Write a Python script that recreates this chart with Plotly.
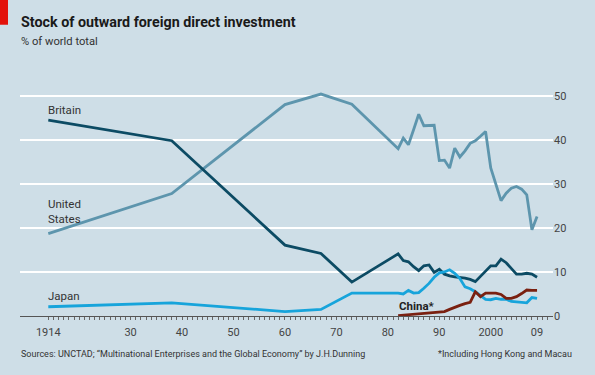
import plotly.graph_objects as go

# ---------------- data ----------------
years_early = [1914, 1938, 1960, 1967, 1973]
years_annual = list(range(1982, 2010))

britain_early = [44.5, 39.8, 16.1, 14.2, 7.7]
britain_annual = [14.1, 12.6, 12.3, 11.2, 10.3, 11.4, 11.6, 9.9, 10.6, 9.5,
                  9.1, 8.9, 8.8, 8.6, 8.3, 7.8, 9.0, 10.3, 11.4, 11.4,
                  12.9, 12.1, 10.8, 9.5, 9.5, 9.7, 9.5, 8.8]

us_early = [18.7, 27.8, 48.0, 50.4, 48.1]
us_annual = [38.0, 40.4, 38.9, 42.3, 45.8, 43.2, 43.3, 43.3, 35.3, 35.4,
             33.6, 38.1, 36.1, 37.5, 39.2, 39.8, 40.8, 41.9, 33.6, 30.0,
             26.2, 27.9, 29.0, 29.4, 28.8, 27.5, 19.6, 22.6]

japan_early = [2.1, 3.0, 1.0, 1.5, 5.2]
japan_annual = [5.2, 5.0, 5.8, 5.2, 5.3, 6.3, 7.4, 8.8, 9.8, 10.0,
                10.5, 9.7, 8.5, 6.6, 6.2, 5.5, 4.6, 3.8, 3.7, 4.0,
                3.8, 3.8, 3.3, 3.2, 3.0, 3.0, 4.2, 4.0]

china_years = years_annual
china = [0.1, 0.2, 0.3, 0.4, 0.5, 0.6, 0.7, 0.8, 0.9, 1.0,
         1.5, 2.0, 2.4, 2.8, 3.1, 5.5, 4.4, 5.2, 5.2, 5.2,
         4.9, 4.0, 4.0, 4.4, 5.1, 5.9, 5.8, 5.8]

x_tickvals = [1914, 1930, 1940, 1950, 1960, 1970, 1980, 1990, 2000, 2009]
x_ticktext = ["1914", "30", "40", "50", "60", "70", "80", "90", "2000", "09"]
y_tickvals = [0, 10, 20, 30, 40, 50]

# ---------------- style ----------------
BG = "#cedee7"
C_BRITAIN = "#0c4b64"
C_US = "#5d95ad"
C_JAPAN = "#17a4db"
C_CHINA = "#7a2010"
FONT = "Roboto, Lato, sans-serif"

W, H = 595, 375
ML, MR, MT, MB = 20, 42, 87.2, 59
PW = W - ML - MR
PH = H - MT - MB


def px(xp):
    return (xp - ML) / PW


def py(yp):
    return (H - MB - yp) / PH


fig = go.Figure()

series = [
    ("United States", years_early + years_annual, us_early + us_annual, C_US),
    ("Britain", years_early + years_annual, britain_early + britain_annual, C_BRITAIN),
    ("Japan", years_early + years_annual, japan_early + japan_annual, C_JAPAN),
    ("China*", china_years, china, C_CHINA),
]
for name, xs, ys, col in series:
    fig.add_trace(go.Scatter(x=xs, y=ys, mode="lines", name=name,
                             line=dict(color=col, width=2.8),
                             hoverinfo="x+y+name"))

# series labels
lab_font = dict(family=FONT, size=11.5, color="#333333")
fig.add_annotation(x=px(46), y=py(110), xref="paper", yref="paper", text="Britain",
                   showarrow=False, xanchor="left", yanchor="middle", font=lab_font)
fig.add_annotation(x=px(46), y=py(211.5), xref="paper", yref="paper", text="United<br>States",
                   showarrow=False, xanchor="left", yanchor="middle", align="left",
                   font=lab_font)
fig.add_annotation(x=px(46), y=py(296), xref="paper", yref="paper", text="Japan",
                   showarrow=False, xanchor="left", yanchor="middle", font=lab_font)
fig.add_annotation(x=px(397), y=py(306), xref="paper", yref="paper", text="<b>China*</b>",
                   showarrow=False, xanchor="left", yanchor="middle",
                   font=dict(family=FONT, size=11.5, color="#222222"))

# title, subtitle, footer
fig.add_annotation(x=px(19), y=py(22), xref="paper", yref="paper",
                   text="<b>Stock of outward foreign direct investment</b>",
                   showarrow=False, xanchor="left", yanchor="middle",
                   font=dict(family=FONT, size=14.3, color="#1a1a1a"))
fig.add_annotation(x=px(19), y=py(42), xref="paper", yref="paper",
                   text="% of world total",
                   showarrow=False, xanchor="left", yanchor="middle",
                   font=dict(family=FONT, size=11.2, color="#333333"))
fig.add_annotation(x=px(19), y=py(354), xref="paper", yref="paper",
                   text="Sources: UNCTAD; \u201cMultinational Enterprises and the Global Economy\u201d by J.H.Dunning",
                   showarrow=False, xanchor="left", yanchor="middle",
                   font=dict(family=FONT, size=9, color="#333333"))
fig.add_annotation(x=px(574), y=py(354), xref="paper", yref="paper",
                   text="*Including Hong Kong and Macau",
                   showarrow=False, xanchor="right", yanchor="middle",
                   font=dict(family=FONT, size=9, color="#333333"))

# red block
fig.add_shape(type="rect", xref="paper", yref="paper",
              x0=px(0), x1=px(8), y0=py(25), y1=py(0),
              fillcolor="#e3120b", line=dict(width=0), layer="above")

fig.update_layout(
    width=W, height=H,
    margin=dict(l=ML, r=MR, t=MT, b=MB, pad=0),
    paper_bgcolor=BG, plot_bgcolor=BG,
    showlegend=False,
    font=dict(family=FONT, size=11, color="#444444"),
    xaxis=dict(
        range=[1908.5, 2012.1], tickmode="array", tickvals=x_tickvals,
        ticktext=x_ticktext, ticks="outside", ticklen=6,
        tickcolor="rgba(0,0,0,0)", showgrid=False, zeroline=False,
        showline=True, linecolor="#555555", linewidth=1,
        tickfont=dict(family=FONT, size=11, color="#444444"),
        minor=dict(tickmode="array", tickvals=list(range(1914, 2012)),
                   ticks="outside", ticklen=3, tickcolor="#666666", tickwidth=1),
    ),
    xaxis2=dict(
        range=[1908.5, 2012.1], overlaying="x", anchor="y", side="bottom",
        tickmode="array", tickvals=list(range(1920, 2011, 10)),
        ticks="outside", ticklen=5, tickcolor="#666666", tickwidth=1,
        showticklabels=False, showgrid=False, zeroline=False, showline=False,
    ),
    yaxis=dict(
        range=[0, 52], side="right", tickmode="array", tickvals=y_tickvals,
        ticks="", showgrid=True, gridcolor="#ffffff", gridwidth=1.6,
        zeroline=False, showline=False,
        tickfont=dict(family=FONT, size=11, color="#444444"),
    ),
)

fig.write_html(
    "out.html",
    config={"displayModeBar": False},
    post_script="document.body.style.margin='0';document.body.style.padding='0';"
                "document.body.style.background='" + BG + "';",
)
